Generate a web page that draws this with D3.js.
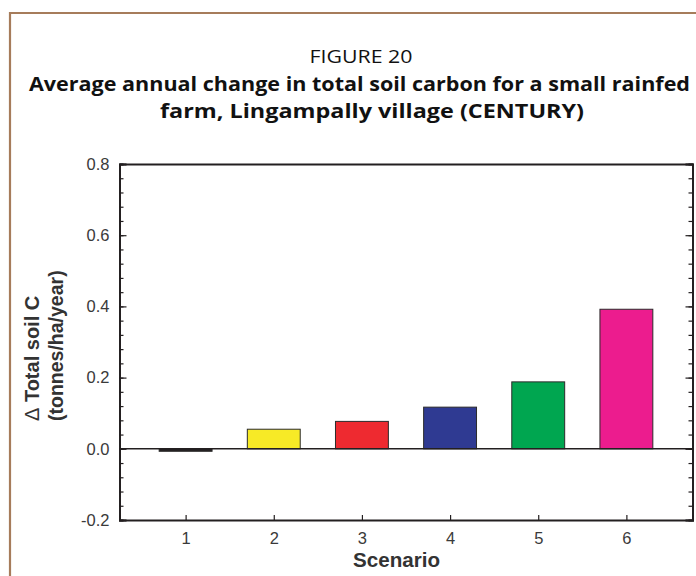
<!DOCTYPE html>
<html><head><meta charset="utf-8">
<script src="https://cdn.jsdelivr.net/npm/d3@7"></script>
<style>body{margin:0;background:#fff;} svg{display:block;}</style>
</head><body>
<svg id="c" width="696" height="576"></svg>
<script>
const scenarios = [1, 2, 3, 4, 5, 6];
const values = [-0.007, 0.055, 0.077, 0.117, 0.188, 0.392];
const colors = ["#231f20", "#f7ea26", "#ee2a30", "#2f3a92", "#00a650", "#ec1c8e"];
const yMajorTicks = [-0.2, 0.0, 0.2, 0.4, 0.6, 0.8];
const titleLines = ["FIGURE 20", "Average annual change in total soil carbon for a small rainfed", "farm, Lingampally village (CENTURY)"];

const svg = d3.select("#c");
const L = 119.5, R = 692.5, T = 164, B = 520;
const x = d3.scaleLinear().domain([0.25, 6.75]).range([L, R]);
const y = d3.scaleLinear().domain([-0.2, 0.8]).range([B, T]);
const ink = "#231f20";
const sans = "Liberation Sans, Arial, sans-serif";

// frame
svg.append("path").attr("d", `M10,580 L10,13 L700,13`).attr("fill","none")
  .attr("stroke","#a67c5b").attr("stroke-width",2.2);

// titles
svg.append("text").attr("x",361).attr("y",62.5).attr("text-anchor","middle")
  .attr("font-family","Open Sans").attr("font-size",18.5).attr("fill","#111")
  .attr("textLength",103).attr("lengthAdjust","spacingAndGlyphs").text(titleLines[0]);
svg.append("text").attr("x",359.5).attr("y",91).attr("text-anchor","middle")
  .attr("font-family","Open Sans").attr("font-weight","bold").attr("font-size",19).attr("fill","#111")
  .attr("textLength",661).attr("lengthAdjust","spacingAndGlyphs").text(titleLines[1]);
svg.append("text").attr("x",372).attr("y",118).attr("text-anchor","middle")
  .attr("font-family","Open Sans").attr("font-weight","bold").attr("font-size",19).attr("fill","#111")
  .attr("textLength",424).attr("lengthAdjust","spacingAndGlyphs").text(titleLines[2]);

// bars
const bw = 0.6;
svg.selectAll("rect.bar").data(scenarios).enter().append("rect")
  .attr("x", d => x(d - bw/2)).attr("width", d => x(d + bw/2) - x(d - bw/2))
  .attr("y", (d,i) => y(Math.max(0, values[i])))
  .attr("height", (d,i) => Math.abs(y(values[i]) - y(0)))
  .attr("fill", (d,i) => colors[i]).attr("stroke", "#2b2b2b").attr("stroke-width", 1);

// zero line
svg.append("line").attr("x1",L).attr("x2",R).attr("y1",y(0)).attr("y2",y(0))
  .attr("stroke",ink).attr("stroke-width",1.6);

// axes
const minorTicks = d3.range(-0.2, 0.8001, 0.04).map(v => +v.toFixed(2));
const gL = svg.append("g").attr("transform",`translate(${L},0)`);
gL.call(d3.axisLeft(y).tickValues(minorTicks).tickSize(-4).tickFormat(""));
const gL2 = svg.append("g").attr("transform",`translate(${L},0)`);
gL2.call(d3.axisLeft(y).tickValues(yMajorTicks).tickSize(-7).tickPadding(10).tickFormat(d3.format(".1f")));
const gR = svg.append("g").attr("transform",`translate(${R},0)`);
gR.call(d3.axisRight(y).tickValues(minorTicks).tickSize(-4).tickFormat(""));
const gR2 = svg.append("g").attr("transform",`translate(${R},0)`);
gR2.call(d3.axisRight(y).tickValues(yMajorTicks).tickSize(-7).tickFormat(""));
const gB = svg.append("g").attr("transform",`translate(0,${B})`);
gB.call(d3.axisBottom(x).tickValues(scenarios).tickSize(-5).tickPadding(12.5).tickFormat(d3.format("d")));
const gT = svg.append("g").attr("transform",`translate(0,${T})`);
gT.call(d3.axisTop(x).tickValues([]).tickSize(0));
[gL,gL2,gR,gR2,gB,gT].forEach(g => {
  g.select(".domain").attr("stroke",ink).attr("stroke-width",1.8);
  g.selectAll(".tick line").attr("stroke",ink).attr("stroke-width",1.2);
  g.selectAll("text").attr("font-family",sans).attr("font-size",16.5).attr("fill","#3a3a3a");
});
gB.selectAll("text").attr("dy","0.71em");
gL2.selectAll("text").text(d => d3.format(".1f")(d).replace("−","-"));

// axis labels
svg.append("text").attr("x",396.5).attr("y",567).attr("text-anchor","middle")
  .attr("font-family",sans).attr("font-weight","bold").attr("font-size",20).attr("fill","#333")
  .attr("textLength",87).attr("lengthAdjust","spacingAndGlyphs").text("Scenario");
const yl = svg.append("text").attr("transform","rotate(-90)").attr("text-anchor","start")
  .attr("font-family",sans).attr("font-weight","bold").attr("font-size",20).attr("fill","#333");
const t1 = yl.append("tspan").attr("x",-421).attr("y",39);
t1.append("tspan").attr("font-weight","normal").text("Δ");
t1.append("tspan").text(" Total soil C");
yl.append("tspan").attr("x",-421).attr("y",63).attr("font-size",19.5).text("(tonnes/ha/year)");
</script>
</body></html>
